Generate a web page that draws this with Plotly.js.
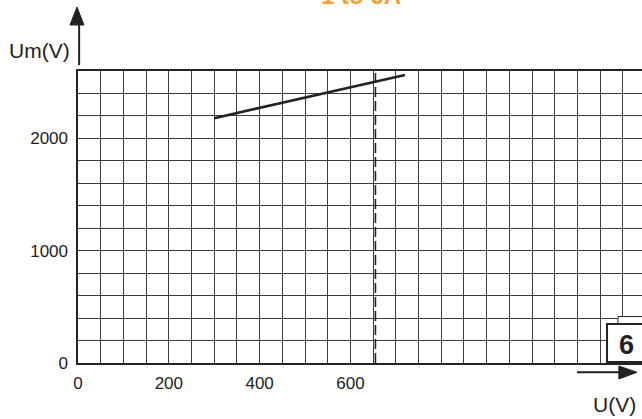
<!DOCTYPE html>
<html>
<head>
<meta charset="utf-8">
<script src="https://cdn.plot.ly/plotly-3.0.1.min.js"></script>
<style>
  html, body { margin: 0; padding: 0; background: #ffffff; }
  #chart { width: 642px; height: 419px; }
</style>
</head>
<body>
<div id="chart"></div>
<script>
// ---- data ----
const U_values = [300, 720];          // U (V)
const Um_values = [2180, 2565];       // Um (V)
const dashed_U = [655, 655];          // vertical dashed marker at U ≈ 655 V
const dashed_Um = [0, 2600];

const xGridVals = [0, 50, 100, 150, 200, 250, 300, 350, 400, 450, 500, 550, 600,
                   650, 700, 750, 800, 850, 900, 950, 1000, 1050, 1100, 1150, 1200];
const xLabelVals = [0, 200, 400, 600];
const xLabelText = ['0', '200', '400', '600'];

const yGridVals = [0, 200, 400, 600, 800, 1000, 1200, 1400, 1600, 1800, 2000, 2200, 2400, 2600];
const yLabelVals = [0, 1000, 2000];
const yLabelText = ['0', '1000', '2000'];

const titleText = '1 to 6A';
const yName = 'Um(V)';
const xName = 'U(V)';
const boxText = '6';

// ---- build ----
function labelsFor(grid, vals, texts) {
  return grid.map(v => { const i = vals.indexOf(v); return i >= 0 ? texts[i] : ''; });
}

const ink = '#222222';
const gridInk = '#3c3c3c';
const font = 'Liberation Sans, Arial, sans-serif';

const traces = [
  {
    x: dashed_U, y: dashed_Um, mode: 'lines', type: 'scatter',
    line: { color: ink, width: 1.6, dash: '10px,4px' }, hoverinfo: 'skip'
  },
  {
    x: U_values, y: Um_values, mode: 'lines', type: 'scatter',
    line: { color: ink, width: 2.6 }
  }
];

const layout = {
  width: 642, height: 419,
  margin: { l: 78, r: 0, t: 71, b: 56, pad: 0 },
  paper_bgcolor: '#ffffff', plot_bgcolor: '#ffffff',
  showlegend: false,
  font: { family: font, color: ink, size: 17 },
  xaxis: {
    range: [0, 1242], fixedrange: true,
    tickmode: 'array', tickvals: xGridVals,
    ticktext: labelsFor(xGridVals, xLabelVals, xLabelText),
    showgrid: true, gridcolor: gridInk, gridwidth: 1,
    zeroline: false, showline: true, linecolor: ink, linewidth: 1.6, mirror: true,
    ticks: '', ticklabelstandoff: 4,
    tickfont: { family: font, size: 17, color: ink }
  },
  yaxis: {
    range: [0, 2600], fixedrange: true,
    tickmode: 'array', tickvals: yGridVals,
    ticktext: labelsFor(yGridVals, yLabelVals, yLabelText),
    showgrid: true, gridcolor: gridInk, gridwidth: 1,
    zeroline: false, showline: true, linecolor: ink, linewidth: 1.6, mirror: false,
    ticks: '', ticklabelstandoff: 5,
    tickfont: { family: font, size: 17, color: ink }
  },
  shapes: [
    // vertical axis arrow (shaft + head)
    { type: 'line', xref: 'paper', yref: 'paper', x0: 0.002, x1: 0.002, y0: 1.02, y1: 1.17,
      line: { color: ink, width: 2 } },
    { type: 'path', xref: 'paper', yref: 'paper',
      path: 'M -0.0142,1.1575 L 0.0106,1.1575 L -0.0018,1.219 Z',
      fillcolor: ink, line: { color: ink, width: 1 } },
    // horizontal axis arrow (shaft + head)
    { type: 'line', xref: 'paper', yref: 'paper', x0: 0.8848, x1: 0.965, y0: -0.0318, y1: -0.0318,
      line: { color: ink, width: 2 } },
    { type: 'path', xref: 'paper', yref: 'paper',
      path: 'M 0.959,-0.0103 L 0.959,-0.0548 L 0.991,-0.0318 Z',
      fillcolor: ink, line: { color: ink, width: 1 } },
    // frame behind the page-number box
    { type: 'rect', xref: 'paper', yref: 'paper', x0: 0.9574, x1: 1.05, y0: 0.102, y1: 0.159,
      fillcolor: '#ffffff', line: { color: ink, width: 1 } },
    // page-number box
    { type: 'rect', xref: 'paper', yref: 'paper', x0: 0.938, x1: 1.05, y0: 0.0034, y1: 0.1336,
      fillcolor: '#ffffff', line: { color: ink, width: 2 } }
  ],
  annotations: [
    { text: '<b>' + titleText + '</b>', xref: 'paper', yref: 'paper', x: 0.502, y: 1.2055,
      xanchor: 'center', yanchor: 'bottom', showarrow: false,
      font: { family: font, size: 24, color: '#f5a12a' } },
    { text: yName, xref: 'paper', yref: 'paper', x: -0.0674, y: 1.0719,
      xanchor: 'center', yanchor: 'middle', showarrow: false,
      font: { family: font, size: 21, color: ink } },
    { text: xName, xref: 'paper', yref: 'paper', x: 0.9504, y: -0.1438,
      xanchor: 'center', yanchor: 'middle', showarrow: false,
      font: { family: font, size: 21, color: ink } },
    { text: '<b>' + boxText + '</b>', xref: 'paper', yref: 'paper', x: 0.973, y: 0.0616,
      xanchor: 'center', yanchor: 'middle', showarrow: false,
      font: { family: font, size: 27, color: ink } }
  ]
};

Plotly.newPlot('chart', traces, layout, { staticPlot: true, displayModeBar: false });
</script>
</body>
</html>
